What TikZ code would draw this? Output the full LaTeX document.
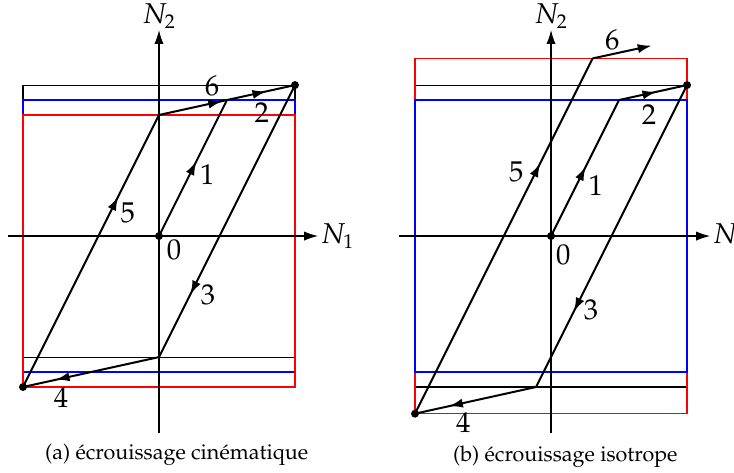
\documentclass[tikz,border=0pt]{standalone}
\usepackage[T1]{fontenc}
\usepackage{mathpazo}
\usetikzlibrary{arrows.meta,decorations.markings}

\tikzset{
  trajet/.style={line width=1pt},
  fleche/.style={postaction={decorate},
    decoration={markings,mark=at position #1 with {\arrow{Latex[length=7pt,width=4.6pt]}}}},
  axe/.style={line width=0.6pt,-{Latex[length=7pt,width=4.6pt]}},
  domaine/.style={line width=0.55pt},
  point/.style={circle,fill,inner sep=0pt,minimum size=4pt},
  etiq/.style={font=\Large,inner sep=0pt},
  legende/.style={font=\fontsize{10.8}{13}\selectfont},
}

\begin{document}
\begin{tikzpicture}[x=1.2cm,y=1.2cm]
\useasboundingbox (-2.338,-3.471) rectangle (8.456,3.471);

% (a) ecrouissage cinematique
\draw[domaine] (-2,-1.78) rectangle (2,2.22);
\draw[domaine,blue] (-2,-2) rectangle (2,2);
\draw[domaine,red] (-2,-2.22) rectangle (2,1.78);

\coordinate (ax0) at (-2.22,0);
\coordinate (ax1) at (2.34,0);
\coordinate (ay0) at (0,-2.9);
\coordinate (ay1) at (0,3.03);
\draw[axe] (ax0) -- (ax1) node[anchor=west,inner sep=1pt,font=\Large] (aN1) {$N_1$};
\draw[axe] (ay0) -- (ay1) node[anchor=south,inner sep=0.5pt,font=\Large] (aN2) {$N_2$};

\coordinate (a0) at (0,0);
\coordinate (a1) at (1,2);
\coordinate (a2) at (2,2.22);
\coordinate (a3) at (0,-1.78);
\coordinate (a4) at (-2,-2.22);
\coordinate (a5) at (0,1.78);
\draw[trajet,fleche=0.55] (a0) -- (a1);
\draw[trajet,fleche=0.58] (a1) -- (a2);
\draw[trajet,fleche=0.77] (a2) -- (a3);
\draw[trajet,fleche=0.76] (a3) -- (a4);
\draw[trajet,fleche=0.70] (a4) -- (a5);
\draw[trajet,fleche=0.93] (a5) -- (a1);
\node[point] (pa0) at (a0) {};
\node[point] (pa2) at (a2) {};
\node[point] (pa4) at (a4) {};

\node[etiq] (la0) at (0.22,-0.21) {0};
\node[etiq] (la1) at (0.71,0.90) {1};
\node[etiq] (la2) at (1.51,1.82) {2};
\node[etiq] (la3) at (0.72,-0.87) {3};
\node[etiq] (la4) at (-1.44,-2.38) {4};
\node[etiq] (la5) at (-0.46,0.34) {5};
\node[etiq] (la6) at (0.78,2.21) {6};
\node[legende] (capa) at (0.26,-3.22) {(a) \'ecrouissage cin\'ematique};

% (b) ecrouissage isotrope
\begin{scope}[shift={(5.765,0)}]
\draw[domaine] (-2,-2.22) rectangle (2,2.22);
\draw[domaine,red] (-2,-2.612) rectangle (2,2.612);
\draw[domaine,blue] (-2,-2) rectangle (2,2);

\coordinate (bx0) at (-2.24,0);
\coordinate (bx1) at (2.34,0);
\coordinate (by0) at (0,-2.9);
\coordinate (by1) at (0,3.03);
\draw[axe] (bx0) -- (bx1) node[anchor=west,inner sep=1pt,font=\Large] (bN1) {$N_1$};
\draw[axe] (by0) -- (by1) node[anchor=south,inner sep=0.5pt,font=\Large] (bN2) {$N_2$};

\coordinate (b0) at (0,0);
\coordinate (b1) at (1,2);
\coordinate (b2) at (2,2.22);
\coordinate (b3) at (-0.22,-2.22);
\coordinate (b4) at (-2,-2.612);
\coordinate (b5) at (0.612,2.612);
\coordinate (b6) at (1.48,2.80);
\draw[trajet,fleche=0.51] (b0) -- (b1);
\draw[trajet,fleche=0.55] (b1) -- (b2);
\draw[trajet,fleche=0.75] (b2) -- (b3);
\draw[trajet,fleche=0.72] (b3) -- (b4);
\draw[trajet,fleche=0.705] (b4) -- (b5);
\draw[trajet,-{Latex[length=7pt,width=4.6pt]}] (b5) -- (b6);
\node[point] (pb0) at (b0) {};
\node[point] (pb2) at (b2) {};
\node[point] (pb4) at (b4) {};

\node[etiq] (lb0) at (0.18,-0.28) {0};
\node[etiq] (lb1) at (0.66,0.74) {1};
\node[etiq] (lb2) at (1.44,1.78) {2};
\node[etiq] (lb3) at (0.59,-1.09) {3};
\node[etiq] (lb4) at (-1.29,-2.74) {4};
\node[etiq] (lb5) at (-0.51,0.94) {5};
\node[etiq] (lb6) at (0.90,2.88) {6};
\node[legende] (capb) at (0.21,-3.25) {(b) \'ecrouissage isotrope};
\end{scope}
\end{tikzpicture}
\end{document}
